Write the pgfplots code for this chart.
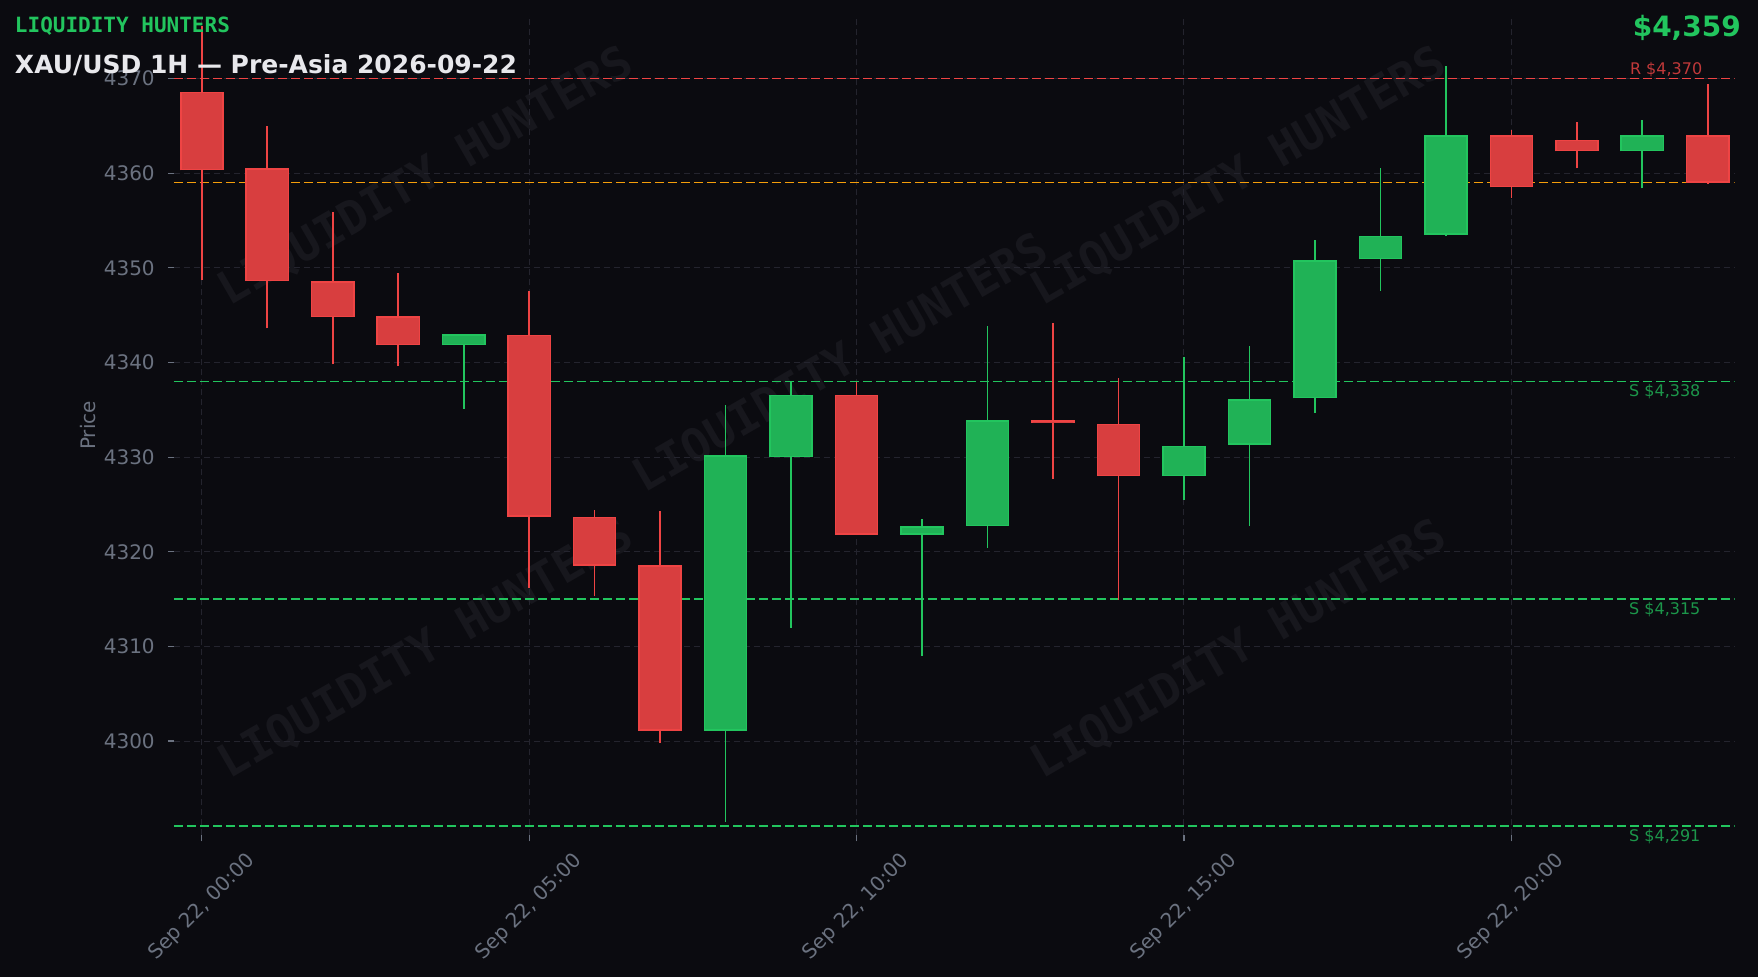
\documentclass[border=0pt]{standalone}
\usepackage{fontspec}
\setmainfont{DejaVu Sans}
\newfontfamily\monofont{DejaVu Sans Mono}
\usepackage{pgfplots}
\usepackage{pgfplotstable}
\pgfplotsset{compat=1.18}

\definecolor{bg}{HTML}{0B0B10}
\definecolor{bullc}{HTML}{22C55E}
\definecolor{bearc}{HTML}{EF4444}
\definecolor{bullfill}{HTML}{20B256}
\definecolor{bearfill}{HTML}{D83E3F}
\definecolor{lvlorange}{HTML}{F59E0B}
\definecolor{tickgrey}{HTML}{6B7280}
\definecolor{gridcol}{HTML}{24242E}
\definecolor{wmcol}{HTML}{17171D}
\definecolor{titlecol}{HTML}{E8E8EC}

% hourly candles, x = hours after Sep 22 00:00
\pgfplotstableread{
x  O       C       L       H
4  4341.8  4343.0  4335.1  4343.0
8  4301.1  4330.2  4291.5  4335.5
9  4330.0  4336.6  4312.0  4338.0
11 4321.8  4322.7  4309.0  4323.5
12 4322.7  4333.9  4320.4  4343.9
15 4328.0  4331.2  4325.5  4340.6
16 4331.3  4336.1  4322.7  4341.7
17 4336.2  4350.8  4334.7  4352.9
18 4350.9  4353.4  4347.6  4360.5
19 4353.5  4364.0  4353.4  4371.3
22 4362.3  4364.0  4358.4  4365.6
}\bulls
\pgfplotstableread{
x  O       C       L       H
0  4368.6  4360.3  4348.7  4375.5
1  4360.5  4348.6  4343.6  4365.0
2  4348.6  4344.8  4339.8  4355.9
3  4344.9  4341.8  4339.6  4349.4
5  4342.9  4323.7  4316.2  4347.5
6  4323.7  4318.5  4315.3  4324.4
7  4318.6  4301.1  4299.8  4324.3
10 4336.6  4321.8  4321.8  4337.9
13 4333.9  4333.6  4327.7  4344.2
14 4333.5  4328.0  4314.9  4338.4
20 4364.0  4358.5  4357.4  4364.6
21 4363.5  4362.3  4360.5  4365.4
23 4364.0  4359.0  4358.9  4369.4
}\bears

\pgfplotsset{
  bar/.style={draw=none, mark=none, forget plot,
    error bars/.cd, y dir=plus, y explicit, error mark=none,
    error bar style={draw=#1, solid, line cap=butt}},
  level/.style={#1, line width=0.8pt, dash pattern=on 4.5pt off 2pt, forget plot},
}

\begin{document}
\begin{tikzpicture}
\fill[bg] (0,0) rectangle (879pt,488.5pt);

% watermark
\foreach \wx/\wy in {213/400, 420.5/306.5, 619.5/400, 213/163.5, 619.5/163.5}
  \node[rotate=30, text=wmcol, font=\monofont\bfseries\fontsize{23}{27}\selectfont]
    at (\wx pt,\wy pt) {LIQUIDITY HUNTERS};

\begin{axis}[
  at={(86.9pt,70.85pt)}, anchor=south west,
  scale only axis, width=780.4pt, height=409.8pt,
  xmin=-0.428, xmax=23.41, ymin=4290.05, ymax=4376.63,
  clip mode=individual,
  axis line style={draw=none},
  xtick={0,5,10,15,20},
  xticklabels={{Sep 22, 00:00},{Sep 22, 05:00},{Sep 22, 10:00},{Sep 22, 15:00},{Sep 22, 20:00}},
  ytick={4300,4310,...,4370},
  xtick pos=bottom, ytick pos=left,
  tick align=outside, major tick length=3pt,
  tick style={color=tickgrey, line width=0.6pt},
  grid=major,
  major grid style={color=gridcol, dash pattern=on 3pt off 2pt, line width=0.5pt},
  ticklabel style={font=\fontsize{10}{12}\selectfont, text=tickgrey},
  /pgf/number format/1000 sep={},
  /pgf/number format/assume math mode=true,
  xticklabel style={yshift=-33pt, rotate=45, anchor=center},
  yticklabel style={xshift=-3pt},
  ylabel={Price},
  ylabel style={at={(axis description cs:-0.0551,0.5)}, anchor=center,
    font=\fontsize{10}{12}\selectfont, text=tickgrey},
]
% key levels
\addplot[level=bearc] coordinates {(-0.428,4370) (23.41,4370)};
\addplot[level=lvlorange] coordinates {(-0.428,4359) (23.41,4359)};
\addplot[level=bullc] coordinates {(-0.428,4338) (23.41,4338)};
\addplot[level=bullc] coordinates {(-0.428,4315) (23.41,4315)};
\addplot[level=bullc] coordinates {(-0.428,4291) (23.41,4291)};

% wicks
\addplot[bar=bullc, error bar style={line width=0.8pt}]
  table[x=x, y=L, y error plus expr=\thisrow{H}-\thisrow{L}] {\bulls};
\addplot[bar=bearc, error bar style={line width=0.8pt}]
  table[x=x, y=L, y error plus expr=\thisrow{H}-\thisrow{L}] {\bears};
% bodies: outline, then fill
\addplot[bar=bullc, error bar style={line width=21.8pt}]
  table[x=x, y=O, y error plus expr=\thisrow{C}-\thisrow{O}] {\bulls};
\addplot[bar=bullfill, error bar style={line width=20.3pt, shorten <=0.75pt, shorten >=0.75pt}]
  table[x=x, y=O, y error plus expr=\thisrow{C}-\thisrow{O}] {\bulls};
\addplot[bar=bearc, error bar style={line width=21.8pt}]
  table[x=x, y=C, y error plus expr=\thisrow{O}-\thisrow{C}] {\bears};
\addplot[bar=bearfill, error bar style={line width=20.3pt, shorten <=0.75pt, shorten >=0.75pt}]
  table[x=x, y=C, y error plus expr=\thisrow{O}-\thisrow{C}] {\bears};

\node[anchor=south east, inner sep=0.6pt, text=bearc!80!bg, font=\fontsize{8}{9.6}\selectfont]
  at (axis cs:22.94,4370) {R \$4,370};
\node[anchor=north east, inner sep=1.5pt, text=bullc!75!bg, font=\fontsize{8}{9.6}\selectfont]
  at (axis cs:22.94,4338) {S \$4,338};
\node[anchor=north east, inner sep=1.5pt, text=bullc!75!bg, font=\fontsize{8}{9.6}\selectfont]
  at (axis cs:22.94,4315) {S \$4,315};
\node[anchor=north east, inner sep=1.5pt, text=bullc!75!bg, font=\fontsize{8}{9.6}\selectfont]
  at (axis cs:22.94,4291) {S \$4,291};
\end{axis}

% headers
\node[anchor=west, inner sep=0, text=bullc, font=\monofont\bfseries\fontsize{10.5}{12}\selectfont]
  at (7.3pt,475.2pt) {LIQUIDITY HUNTERS};
\node[anchor=west, inner sep=0, text=titlecol, font=\bfseries\fontsize{12.5}{15}\selectfont]
  at (7.3pt,456pt) {XAU/USD 1H — Pre-Asia 2026-09-22};
\node[anchor=east, inner sep=0, text=bullc, font=\bfseries\fontsize{14}{17}\selectfont]
  at (870.6pt,474.5pt) {\$4,359};

\pgfresetboundingbox
\useasboundingbox (0,0) rectangle (879pt,488.5pt);
\end{tikzpicture}
\end{document}
